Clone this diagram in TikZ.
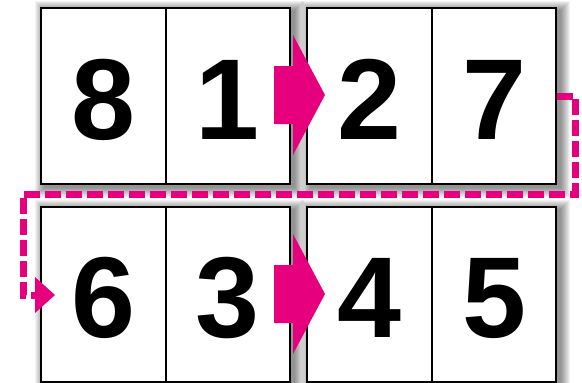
\documentclass[tikz,border=0pt]{standalone}
\usepackage{fontspec}
\setmainfont{Liberation Sans}
\definecolor{pink}{HTML}{E6007E}
\begin{document}
\begin{tikzpicture}[x=1pt,y=-1pt,
  page/.style={draw=black,line width=2pt,fill=white,rectangle,inner sep=0pt,minimum width=249pt},
  divider/.style={draw=black,line width=2pt},
  digit/.style={anchor=base,inner sep=0pt,font=\fontsize{115}{115}\selectfont\bfseries},
  blockarrow/.style={fill=pink,draw=none},
  flow/.style={draw=pink,line width=7pt,dash pattern=on 16pt off 5pt},
]
\useasboundingbox (0,0) rectangle (582,383);
\fill[white] (0,0) rectangle (582,383);
% shadows
\foreach \cx/\cy/\h in {165.5/96/176, 431.5/96/176, 165.5/294.5/175, 431.5/294.5/175}{
  \foreach \i in {1,...,10}{
    \fill[black,opacity=0.05] ({\cx-124.5-\i+4},{\cy-\h/2-\i+3}) rectangle ({\cx+124.5+\i+4},{\cy+\h/2+\i+3});
  }
}
% pages
\node[page,minimum height=176pt] (tl) at (165.5,96) {};
\node[page,minimum height=176pt] (tr) at (431.5,96) {};
\node[page,minimum height=175pt] (bl) at (165.5,294.5) {};
\node[page,minimum height=175pt] (br) at (431.5,294.5) {};
\foreach \n in {tl,tr,bl,br}{\draw[divider] (\n.north) -- (\n.south);}
% digits
\node[digit] (d8) at (103,139) {8};
\node[digit] (d1) at (227.5,139) {1};
\node[digit] (d2) at (369,139) {2};
\node[digit] (d7) at (494,139) {7};
\node[digit] (d6) at (103,337) {6};
\node[digit] (d3) at (227.5,337) {3};
\node[digit] (d4) at (369,337) {4};
\node[digit] (d5) at (494,337) {5};
% block arrows
\fill[blockarrow] (274,66) -- (293,66) -- (293,35) -- (325,95) -- (293,155) -- (293,124) -- (274,124) -- cycle;
\fill[blockarrow] (274,265) -- (293,265) -- (293,234) -- (325,294) -- (293,354) -- (293,323) -- (274,323) -- cycle;
% dashed flow
\coordinate (c1) at (575,96);
\coordinate (c2) at (575,194);
\coordinate (c3) at (23,194);
\coordinate (c4) at (23,295);
\coordinate (tip) at (35,295);
\draw[flow] (tr.east) -- (c1) -- (c2) -- (c3) -- (c4) -- (tip);
\fill[pink] (35,277) -- (55,295) -- (35,313) -- cycle;
\end{tikzpicture}
\end{document}
